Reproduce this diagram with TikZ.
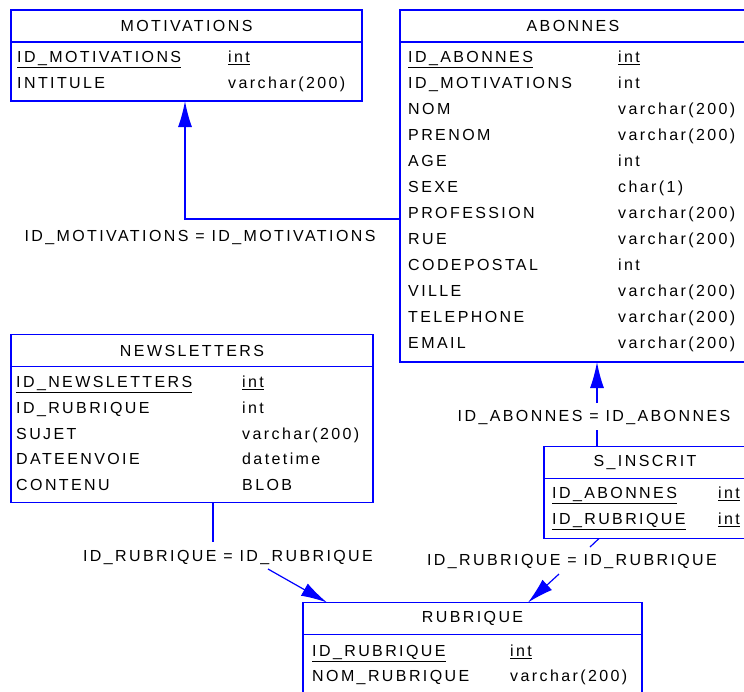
\documentclass[tikz,border=0pt]{standalone}
\usepackage{fontspec}
\setmainfont{Liberation Sans}[LetterSpace=15]
\usetikzlibrary{positioning}
\usetikzlibrary{arrows.meta}

\begin{document}
\begin{tikzpicture}[x=1pt, y=-1pt,
    font=\fontsize{16}{19}\selectfont,
    tblhead/.style = {draw=blue, line width=1.4pt, fill=white, minimum height=32pt,
                inner sep=0pt, outer sep=0pt, minimum width=#1},
    tblbody/.style = {draw=blue, line width=1.4pt, fill=white,
                inner sep=0pt, outer sep=0pt, minimum width=#1},
    col/.style = {anchor=base west, inner sep=0pt},
    link/.style = {draw=blue, line width=1.2pt},
    fk/.style = {link, -{Latex[length=26pt,width=14pt]}},
    rel/.style = {inner sep=0pt, minimum height=27pt}
                    ]
        \useasboundingbox (0,0) rectangle (744,691);
        % tables
        \node[tblhead=351] (mot) at (186.5,26) {MOTIVATIONS};
        \node[tblbody=351, minimum height=59pt, below=0pt of mot] (motbody) {};
        \node[tblhead=346] (ab) at (573,26) {ABONNES};
        \node[tblbody=346, minimum height=320pt, below=0pt of ab] (abbody) {};
        \node[tblhead=362] (nl) at (192,350.5) {NEWSLETTERS};
        \node[tblbody=362, minimum height=136pt, below=0pt of nl] (nlbody) {};
        \node[tblhead=202] (si) at (645,462.5) {S\_INSCRIT};
        \node[tblbody=202, minimum height=60pt, below=0pt of si] (sibody) {};
        \node[tblhead=339] (rub) at (472.5,618.5) {RUBRIQUE};
        \node[tblbody=339, minimum height=66pt, below=0pt of rub] (rubbody) {};
        % columns
        \foreach \n/\t [count=\i from 0] in {\underline{ID\_MOTIVATIONS}/\underline{int}, INTITULE/varchar(200)}{
            \node[col] at (17,62.5+25.5*\i) {\n};
            \node[col] at (228,62.5+25.5*\i) {\t};
        }
        \foreach \n/\t [count=\i from 0] in {\underline{ID\_ABONNES}/\underline{int}, ID\_MOTIVATIONS/int,
                NOM/varchar(200), PRENOM/varchar(200), AGE/int, SEXE/char(1), PROFESSION/varchar(200),
                RUE/varchar(200), CODEPOSTAL/int, VILLE/varchar(200), TELEPHONE/varchar(200), EMAIL/varchar(200)}{
            \node[col] at (408,62.5+26*\i) {\n};
            \node[col] at (618,62.5+26*\i) {\t};
        }
        \foreach \n/\t [count=\i from 0] in {\underline{ID\_NEWSLETTERS}/\underline{int}, ID\_RUBRIQUE/int,
                SUJET/varchar(200), DATEENVOIE/datetime, CONTENU/BLOB}{
            \node[col] at (16,387.5+25.8*\i) {\n};
            \node[col] at (242,387.5+25.8*\i) {\t};
        }
        \foreach \n/\t [count=\i from 0] in {\underline{ID\_ABONNES}/\underline{int}, \underline{ID\_RUBRIQUE}/\underline{int}}{
            \node[col] at (552,498.5+26*\i) {\n};
            \node[col] at (718,498.5+26*\i) {\t};
        }
        \foreach \n/\t [count=\i from 0] in {\underline{ID\_RUBRIQUE}/\underline{int}, NOM\_RUBRIQUE/varchar(200)}{
            \node[col] at (312,656.5+25*\i) {\n};
            \node[col] at (510,656.5+25*\i) {\t};
        }
        % references
        \node[rel] (lmot) at (200,237) {ID\_MOTIVATIONS = ID\_MOTIVATIONS};
        \node[rel] (lab) at (594,417) {ID\_ABONNES = ID\_ABONNES};
        \node[rel] (lnl) at (228,557) {ID\_RUBRIQUE = ID\_RUBRIQUE};
        \node[rel] (lsi) at (572,561) {ID\_RUBRIQUE = ID\_RUBRIQUE};
        \coordinate (m1) at (185,219);
        \coordinate (a1) at (597,403);
        \coordinate (a2) at (597,430);
        \coordinate (n1) at (213,542);
        \coordinate (n2) at (268,569);
        \coordinate (n3) at (327,603);
        \coordinate (s1) at (599,538);
        \coordinate (s2) at (590,547);
        \coordinate (s3) at (559,574);
        \coordinate (s4) at (528,603);
        \draw [fk] (abbody.west |- m1) -| (motbody.south -| m1);
        \draw [fk] (a1) -- (abbody.south -| a1);
        \draw [link] (a2) -- (si.north -| a2);
        \draw [link] (nlbody.south -| n1) -- (n1);
        \draw [fk] (n2) -- (rub.north -| n3);
        \draw [link] (sibody.south -| s1) -- (s2);
        \draw [fk] (s3) -- (rub.north -| s4);
    \end{tikzpicture}
\end{document}
